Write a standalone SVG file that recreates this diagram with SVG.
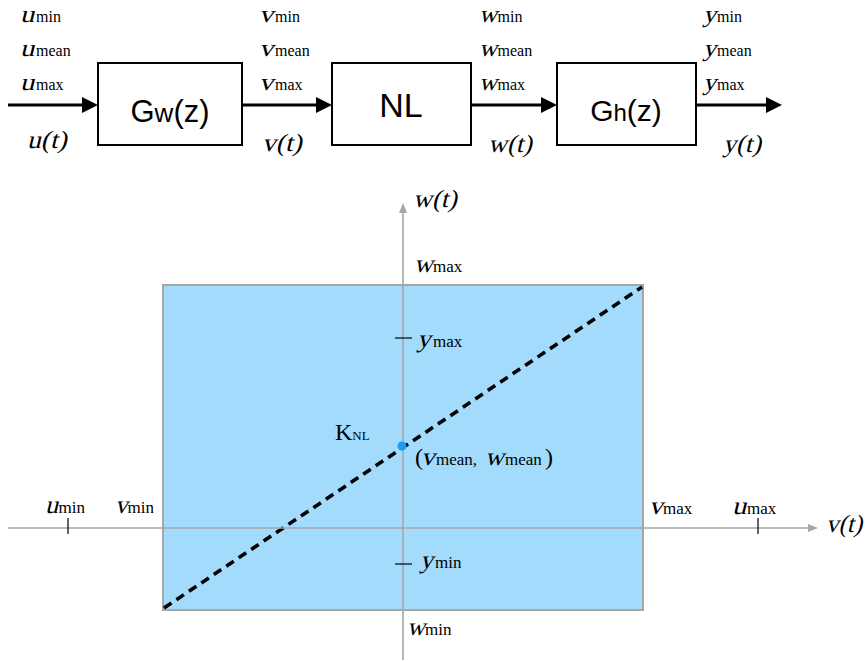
<svg xmlns="http://www.w3.org/2000/svg" width="866" height="661" viewBox="0 0 866 661">
<style>
.i{font-family:"Liberation Serif","Times New Roman",serif;font-size:25px;fill:#000}
.t{font-size:24px}
.s{font-family:"Liberation Serif","Times New Roman",serif;font-size:16px;fill:#000}
.s2{font-family:"Liberation Serif","Times New Roman",serif;font-size:17px;fill:#000}
.r{font-family:"Liberation Serif","Times New Roman",serif;font-size:24px;fill:#000}
.box{fill:#fff;stroke:#000;stroke-width:2}
.bt{font-family:"Liberation Sans",Arial,sans-serif;fill:#000;text-anchor:middle}
.sig{stroke:#000;stroke-width:3.2;fill:none}
.ax{stroke:#a6a6a6;stroke-width:1.6;fill:none}
.tk{stroke:#000;stroke-width:1.2}
</style>
<defs>
<marker id="ah" markerUnits="userSpaceOnUse" viewBox="0 0 16 16" refX="10" refY="8" markerWidth="16" markerHeight="16" orient="auto">
<path d="M0,0 L16,8 L0,16 z" fill="#000"/>
</marker>
<marker id="ga" markerUnits="userSpaceOnUse" viewBox="0 0 10 8" refX="4" refY="4" markerWidth="10" markerHeight="8" orient="auto">
<path d="M0,0 L10,4 L0,8 z" fill="#a6a6a6"/>
</marker>
</defs>

<g id="plot">
<rect x="163" y="285" width="480" height="325" fill="#a3dbfd" stroke="#a6a6a6" stroke-width="2"/>
<line x1="164" y1="608" x2="642" y2="287" stroke="#000" stroke-width="3.6" stroke-dasharray="9,6"/>
</g>

<g id="connectors">
<line class="sig" x1="8" y1="105" x2="92" y2="105" marker-end="url(#ah)"/>
<line class="sig" x1="243" y1="105" x2="326" y2="105" marker-end="url(#ah)"/>
<line class="sig" x1="471" y1="105" x2="551" y2="105" marker-end="url(#ah)"/>
<line class="sig" x1="696" y1="105" x2="776" y2="105" marker-end="url(#ah)"/>
<line class="ax" x1="8" y1="528" x2="812" y2="528" marker-end="url(#ga)"/>
<line class="ax" x1="403" y1="660" x2="403" y2="209" marker-end="url(#ga)"/>
</g>

<g id="gw">
<rect class="box" x="98" y="63" width="144" height="82"/>
<text class="bt" x="170" y="122" font-size="31">G<tspan font-size="26">w</tspan>(z)</text>
</g>
<g id="nl">
<rect class="box" x="332" y="63" width="139" height="82"/>
<text class="bt" x="401" y="117" font-size="34">NL</text>
</g>
<g id="gh">
<rect class="box" x="557" y="63" width="139" height="82"/>
<text class="bt" x="626" y="121" font-size="30">G<tspan font-size="24">h</tspan>(z)</text>
</g>

<g id="labels">
<text class="i t" transform="translate(20,22) skewX(-14) scale(1.2,1)">u</text><text class="s" x="36" y="22">min</text>
<text class="i t" transform="translate(20,56) skewX(-14) scale(1.2,1)">u</text><text class="s" x="36" y="56">mean</text>
<text class="i t" transform="translate(20,90) skewX(-14) scale(1.2,1)">u</text><text class="s" x="36" y="90">max</text>
<text class="i" transform="translate(27,148) skewX(-14) scale(1.1,1)">u(t)</text>

<text class="i t" transform="translate(259,22) skewX(-14) scale(1.2,1)">v</text><text class="s" x="275" y="22">min</text>
<text class="i t" transform="translate(259,56) skewX(-14) scale(1.2,1)">v</text><text class="s" x="275" y="56">mean</text>
<text class="i t" transform="translate(259,90) skewX(-14) scale(1.2,1)">v</text><text class="s" x="275" y="90">max</text>
<text class="i" transform="translate(262,151) skewX(-14) scale(1.1,1)">v(t)</text>

<text class="i t" transform="translate(479,22) skewX(-14) scale(1.05,1)">w</text><text class="s" x="497.5" y="22">min</text>
<text class="i t" transform="translate(479,56) skewX(-14) scale(1.05,1)">w</text><text class="s" x="497.5" y="56">mean</text>
<text class="i t" transform="translate(479,90) skewX(-14) scale(1.05,1)">w</text><text class="s" x="497.5" y="90">max</text>
<text class="i" transform="translate(488,152) skewX(-14) scale(1.05,1)">w(t)</text>

<text class="i t" transform="translate(703,22) skewX(-14) scale(1.1,1)">y</text><text class="s" x="717" y="22">min</text>
<text class="i t" transform="translate(703,56) skewX(-14) scale(1.1,1)">y</text><text class="s" x="717" y="56">mean</text>
<text class="i t" transform="translate(703,90) skewX(-14) scale(1.1,1)">y</text><text class="s" x="717" y="90">max</text>
<text class="i" transform="translate(723,152) skewX(-14) scale(1.05,1)">y(t)</text>
</g>

<g id="axis-labels">
<text class="i" transform="translate(413,207) skewX(-14) scale(1.05,1)">w(t)</text>
<text class="i" transform="translate(826,532) skewX(-14)">v(t)</text>
<text class="i" transform="translate(414,272) skewX(-14) scale(1.05,1)">w</text><text class="s2" x="433" y="272">max</text>
<text class="i" transform="translate(407,635) skewX(-14)">w</text><text class="s2" x="425" y="635">min</text>
<line class="tk" x1="395" y1="338" x2="412" y2="338"/>
<text class="i" transform="translate(417,347) skewX(-14) scale(1.1,1)">y</text><text class="s2" x="433" y="347">max</text>
<line class="tk" x1="395" y1="564" x2="412" y2="564"/>
<text class="i" transform="translate(420,568) skewX(-14) scale(1.05,1)">y</text><text class="s2" x="435" y="568">min</text>
<text class="i" transform="translate(45,513) skewX(-14) scale(1.05,1)">u</text><text class="s2" x="58.5" y="513">min</text>
<line class="tk" x1="68" y1="518" x2="68" y2="534"/>
<text class="i" transform="translate(115,513) skewX(-14)">v</text><text class="s2" x="127.5" y="513">min</text>
<text class="i" transform="translate(649,514) skewX(-14) scale(1.1,1)">v</text><text class="s2" x="663" y="514">max</text>
<text class="i" transform="translate(732,514) skewX(-14) scale(1.15,1)">u</text><text class="s2" x="747" y="514">max</text>
<line class="tk" x1="758" y1="518" x2="758" y2="534"/>
</g>

<g id="knl">
<circle cx="402" cy="446" r="4.5" fill="#1a9cf0"/>
<text class="r" x="335" y="440">K<tspan font-size="13">NL</tspan></text>
<text class="r" x="415" y="465">(</text>
<text class="i" transform="translate(421,465) skewX(-14) scale(1.1,1)">v</text>
<text class="s2" x="436" y="465">mean,</text>
<text class="i" transform="translate(485,465) skewX(-14) scale(1.05,1)">w</text>
<text class="s2" x="505" y="465">mean</text>
<text class="r" x="545" y="465">)</text>
</g>
</svg>
